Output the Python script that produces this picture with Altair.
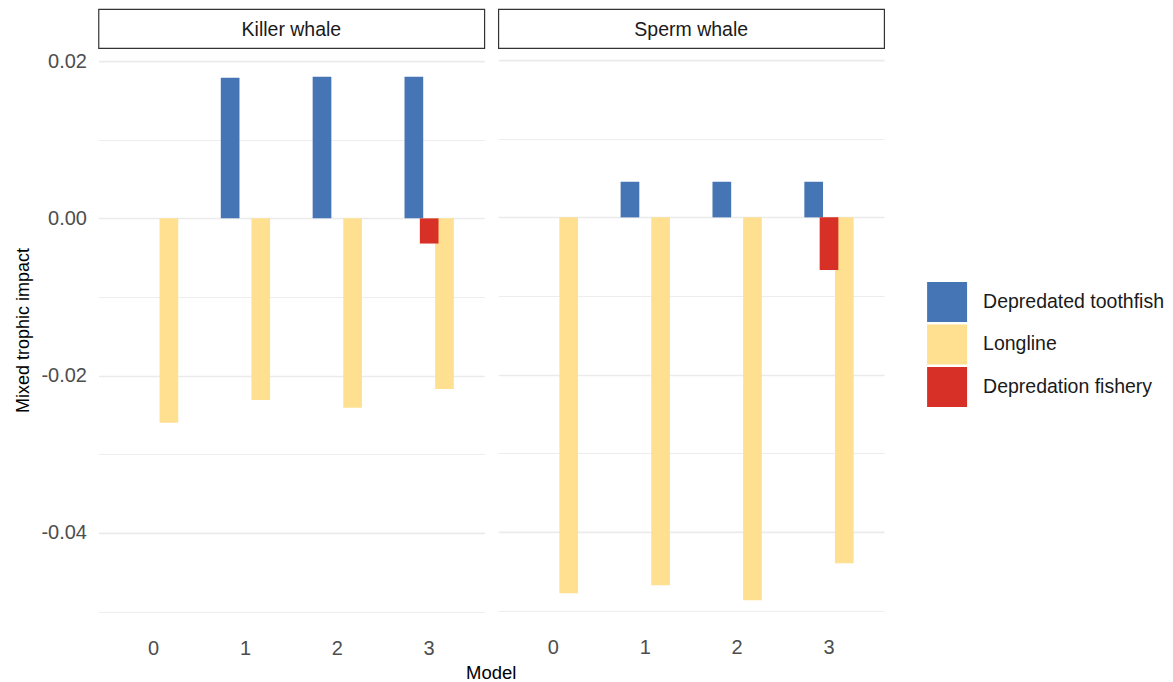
import altair as alt
import pandas as pd

whales = ["Killer whale", "Sperm whale"]
series_order = ["Depredated toothfish", "Longline", "Depredation fishery"]
dodge_order = ["Depredated toothfish", "Depredation fishery", "Longline"]
colors = ["#4575B4", "#FEE090", "#D73027"]
models = ["0", "1", "2", "3"]

# values per whale, per model (None = no bar)
longline_killer = [-0.0260, -0.0231, -0.0241, -0.0217]
toothfish_killer = [None, 0.0179, 0.0180, 0.0180]
fishery_killer = [None, None, None, -0.0032]

longline_sperm = [-0.0478, -0.0468, -0.0487, -0.0440]
toothfish_sperm = [None, 0.00453, 0.00453, 0.00453]
fishery_sperm = [None, None, None, -0.0067]

rows = []
for whale, ll, tf, fi in [
    ("Killer whale", longline_killer, toothfish_killer, fishery_killer),
    ("Sperm whale", longline_sperm, toothfish_sperm, fishery_sperm),
]:
    for name, vals in [("Longline", ll), ("Depredated toothfish", tf), ("Depredation fishery", fi)]:
        for m, v in zip(models, vals):
            if v is not None:
                rows.append({"whale": whale, "Model": m, "series": name, "value": v})
df = pd.DataFrame(rows)

FONT = "Liberation Sans"
PW, PH = 386, 577
STRIP_H = 39
y_ticks = [-0.05, -0.04, -0.03, -0.02, -0.01, 0.0, 0.01, 0.02]
major_test = "round(datum.value*100) % 2 == 0"

color = alt.Color(
    "series:N",
    scale=alt.Scale(domain=series_order, range=colors),
    legend=alt.Legend(
        title=None, orient="none", legendX=829, legendY=273,
        symbolType="square", symbolSize=1600, symbolStrokeWidth=0,
        labelFontSize=19.5, labelFont=FONT, labelColor="#1A1A1A", labelLimit=300,
        labelOffset=16, rowPadding=2.5, symbolOpacity=1,
    ),
)


def panel(whale, first):
    yaxis = alt.Axis(
        values=y_ticks,
        labels=first,
        labelExpr="round(datum.value*100) % 2 == 0 ? replace(format(datum.value, '.2f'), '\u2212', '-') : ''",
        labelFontSize=20, labelFont=FONT, labelColor="#4D4D4D", labelPadding=12,
        title="Mixed trophic impact" if first else None,
        titleFontSize=18, titleFont=FONT, titleColor="#000000", titleFontWeight="normal",
        titlePadding=8,
        ticks=False, domain=False,
        gridColor="#EBEBEB",
        gridWidth={"condition": {"test": major_test, "value": 1.6}, "value": 0.9},
        **({"titleY": 279} if first else {}),
    )
    xaxis = alt.Axis(
        labelAngle=0, labelFontSize=20, labelFont=FONT, labelColor="#4D4D4D", labelPadding=11,
        title=None,
        ticks=False, domain=False, bandPosition=0.5,
        gridColor="#EBEBEB", gridWidth=1.6,
    )
    bars = (
        alt.Chart(df)
        .transform_filter(alt.datum.whale == whale)
        .mark_bar(width=18.7)
        .encode(
            x=alt.X("Model:O", scale=alt.Scale(domain=models, paddingInner=0.5, paddingOuter=0.35), axis=xaxis),
            xOffset=alt.XOffset("series:N", scale=alt.Scale(domain=dodge_order, paddingInner=0, paddingOuter=0)),
            y=alt.Y("value:Q", scale=alt.Scale(domain=[-0.05208, 0.02127], nice=False, zero=False), axis=yaxis),
            color=color,
        )
        .properties(width=PW, height=PH)
    )
    strip = (
        alt.Chart(pd.DataFrame({"whale": [whale]}))
        .mark_text(font=FONT, fontSize=19.5, color="#1A1A1A", baseline="middle", align="center")
        .encode(text="whale:N", x=alt.value(PW / 2), y=alt.value(STRIP_H / 2 + 1))
        .properties(width=PW, height=STRIP_H,
                    view=alt.ViewBackground(stroke="#333333", strokeWidth=1.2, fill="white"))
    )
    return alt.vconcat(strip, bars, spacing=1)


chart = (
    alt.hconcat(panel(whales[0], True), panel(whales[1], False), spacing=12)
    .properties(
        padding={"left": 6.5, "top": 0, "right": 0, "bottom": 0},
        title=alt.TitleParams(
            text="Model", orient="bottom", anchor="start", frame="group", align="center",
            dx=393, offset=5, fontSize=18.5, font=FONT, color="#000000", fontWeight="normal",
        ),
    )
    .configure_view(stroke=None)
)

chart.save("out.html", embed_options={"renderer": "svg", "actions": False})
